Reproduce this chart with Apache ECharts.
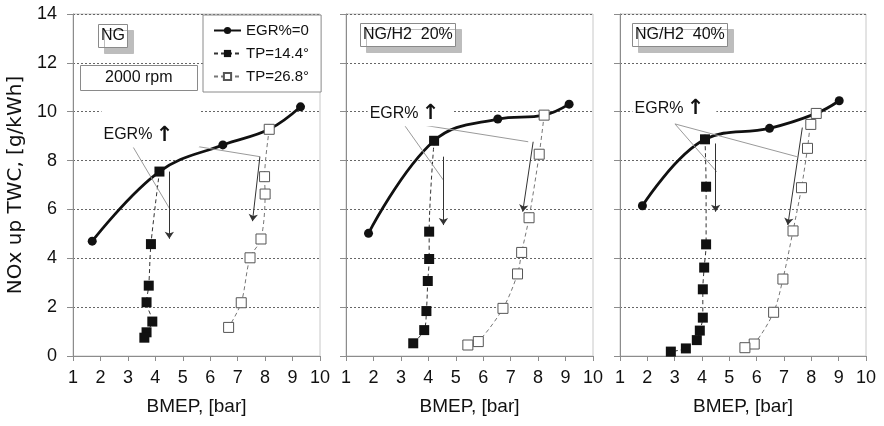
<!DOCTYPE html>
<html>
<head>
<meta charset="utf-8">
<script src="https://cdn.jsdelivr.net/npm/echarts@6/dist/echarts.min.js"></script>
<style>
html,body{margin:0;padding:0;background:#fff;}
#chart{width:884px;height:426px;}
</style>
</head>
<body>
<div id="chart"></div>
<script>
// ---------- data ----------
const seriesNames = ['EGR%=0', 'TP=14.4°', 'TP=26.8°'];
const panelTitles = ['NG', 'NG/H2  20%', 'NG/H2  40%'];
const speedLabel = '2000 rpm';
const yAxisName = 'NOx up TWC, [g/kWh]';
const xAxisName = 'BMEP, [bar]';

// panel 1: NG
const ngEgr0   = [[1.70,4.70],[4.15,7.55],[6.46,8.64],[8.15,9.28],[9.29,10.20]];
const ngTp144  = [[4.15,7.55],[3.84,4.58],[3.76,2.88],[3.68,2.20],[3.89,1.41],[3.68,0.97],[3.60,0.75]];
const ngTp268  = [[8.15,9.28],[7.98,7.34],[8.00,6.63],[7.85,4.79],[7.45,4.02],[7.13,2.18],[6.67,1.17]];
// panel 2: NG/H2 20%
const h20Egr0  = [[1.82,5.02],[4.21,8.81],[6.53,9.70],[8.22,9.86],[9.13,10.31]];
const h20Tp144 = [[4.21,8.81],[4.03,5.09],[4.03,3.97],[3.98,3.07],[3.93,1.84],[3.85,1.06],[3.45,0.52]];
const h20Tp268 = [[8.22,9.86],[8.04,8.26],[7.67,5.66],[7.40,4.24],[7.25,3.36],[6.72,1.95],[5.82,0.59],[5.44,0.45]];
// panel 3: NG/H2 40%
const h40Egr0  = [[1.82,6.15],[4.11,8.87],[6.47,9.32],[8.18,9.93],[9.02,10.45]];
const h40Tp144 = [[4.11,8.87],[4.15,6.93],[4.15,4.57],[4.08,3.62],[4.03,2.73],[4.03,1.57],[3.92,1.04],[3.81,0.65],[3.41,0.31],[2.86,0.18]];
const h40Tp268 = [[8.18,9.93],[7.98,9.48],[7.86,8.50],[7.64,6.89],[7.33,5.12],[6.96,3.15],[6.62,1.79],[5.91,0.49],[5.57,0.34]];

// annotation geometry in data units: label anchor, pointer origin, pointer targets, arrows
const annLabel   = [[2.02,9.33],[1.77,10.0],[1.44,10.23]];
const annOrigin  = [[2.93,9.05],[3.04,9.59],[3.01,9.50]];
const annTargets = [
  [[4.51,6.05],[7.81,8.16]],
  [[4.55,7.20],[7.64,8.77]],
  [[4.54,7.54],[7.47,8.16]]
];
const annArrows = [
  [[[4.51,7.55],[4.51,4.80]],[[7.81,8.16],[7.54,5.52]]],
  [[[4.55,8.16],[4.55,5.36]],[[7.82,8.77],[7.44,5.91]]],
  [[[4.50,8.70],[4.50,5.91]],[[7.67,9.35],[7.14,5.36]]]
];

const egr0 = [ngEgr0, h20Egr0, h40Egr0];
const tp144 = [ngTp144, h20Tp144, h40Tp144];
const tp268 = [ngTp268, h20Tp268, h40Tp268];

// ---------- layout ----------
const FONT = "'Liberation Sans', Arial, sans-serif";
const FONT_WIDE = "'DejaVu Sans', 'Liberation Sans', sans-serif";
const grids = [
  {left: 73, top: 14, width: 247, height: 342},
  {left: 346, top: 14, width: 247, height: 342},
  {left: 620, top: 14, width: 246, height: 342}
];
const titleBoxes = [{left: 98, top: 24}, {left: 360, top: 23}, {left: 632, top: 23}];
const labelPadding = [[16, 26, 2, 2], [6, 14, 2, 2], [6, 12, 2, 2]];

const option = {
  backgroundColor: '#fff',
  animation: false,
  textStyle: {fontFamily: FONT},
  grid: grids.map(g => Object.assign({show: true, borderColor: '#c8c8c8', borderWidth: 1, backgroundColor: '#fff'}, g)),
  title: panelTitles.map((t, i) => ({
    text: t, left: titleBoxes[i].left, top: titleBoxes[i].top,
    padding: [3, 3, 3, 3], backgroundColor: '#fff', borderColor: '#8a8a8a', borderWidth: 1,
    shadowColor: '#bdbdbd', shadowOffsetX: 6, shadowOffsetY: 6, shadowBlur: 0,
    textStyle: {fontSize: 16, fontWeight: 'normal', color: '#111', fontFamily: FONT, lineHeight: 18}
  })).concat([{
    text: speedLabel, left: 80, top: 65,
    padding: [4, 25, 4, 25], backgroundColor: '#fff', borderColor: '#8a8a8a', borderWidth: 1,
    textStyle: {fontSize: 16, fontWeight: 'normal', color: '#111', fontFamily: FONT, lineHeight: 18}
  }]),
  legend: {
    data: seriesNames, left: 203, top: 15, orient: 'vertical',
    borderColor: '#8a8a8a', borderWidth: 1, backgroundColor: '#fff',
    padding: [8, 12, 8, 10], itemGap: 8, itemWidth: 27, itemHeight: 9,
    textStyle: {fontSize: 15, color: '#111', fontFamily: FONT}
  },
  xAxis: grids.map((g, i) => ({
    type: 'value', gridIndex: i, min: 1, max: 10, interval: 1,
    name: xAxisName, nameLocation: 'middle', nameGap: 41,
    nameTextStyle: {fontSize: 19, color: '#111', fontFamily: FONT},
    axisLine: {show: true, lineStyle: {color: '#8c8c8c'}},
    axisTick: {show: true, inside: false, length: 5, lineStyle: {color: '#8c8c8c'}},
    axisLabel: {fontSize: 18, color: '#111', margin: 13, fontFamily: FONT},
    splitLine: {show: false}
  })),
  yAxis: grids.map((g, i) => ({
    type: 'value', gridIndex: i, min: 0, max: 14, interval: 2,
    name: i === 0 ? yAxisName : '', nameLocation: 'middle', nameGap: 47,
    nameTextStyle: {fontSize: 20, color: '#111', fontFamily: FONT_WIDE},
    axisLine: {show: true, lineStyle: {color: '#8c8c8c'}},
    axisTick: {show: true, inside: false, length: 6, lineStyle: {color: '#8c8c8c'}},
    axisLabel: {show: i === 0, fontSize: 18, color: '#111', margin: 16, fontFamily: FONT},
    splitLine: {show: true, lineStyle: {color: '#666', width: 1, type: [2, 2]}}
  })),
  series: []
};

for (let i = 0; i < 3; i++) {
  const pointerLines = annTargets[i].map(t => [
    {coord: annOrigin[i], symbol: 'none', lineStyle: {color: '#9a9a9a', width: 1, type: 'solid'}},
    {coord: t, symbol: 'none'}
  ]);
  const arrowLines = annArrows[i].map(a => [
    {coord: a[0], symbol: 'none', lineStyle: {color: '#333', width: 1, type: 'solid'}},
    {coord: a[1], symbol: 'arrow', symbolSize: 7}
  ]);
  option.series.push({
    type: 'line', name: 'annotation' + i, xAxisIndex: i, yAxisIndex: i, data: [], z: 1,
    silent: true,
    markLine: {silent: true, animation: false, label: {show: false}, symbol: ['none', 'none'],
      data: pointerLines.concat(arrowLines)},
    markPoint: {silent: true, animation: false,
      data: [{coord: annLabel[i], symbol: 'rect', symbolSize: 1, itemStyle: {color: 'rgba(0,0,0,0)'},
        label: {show: true, position: 'right', distance: 0, formatter: '{a|EGR%} {b|↑}',
          backgroundColor: '#fff', padding: labelPadding[i],
          rich: {a: {fontSize: 16, color: '#111', fontFamily: FONT},
                 b: {fontSize: 21, fontWeight: 'bold', color: '#111', fontFamily: FONT_WIDE}}}}]}
  });
  option.series.push({
    type: 'line', name: seriesNames[0], xAxisIndex: i, yAxisIndex: i, data: egr0[i], z: 3,
    smooth: 0.4, symbol: 'circle', symbolSize: 9,
    lineStyle: {color: '#111', width: 2.8}, itemStyle: {color: '#111'}
  });
  option.series.push({
    type: 'line', name: seriesNames[1], xAxisIndex: i, yAxisIndex: i, data: tp144[i], z: 4,
    smooth: 0.3, symbol: 'rect', symbolSize: 10,
    lineStyle: {color: '#333', width: 1, type: [4, 3]}, itemStyle: {color: '#111'}
  });
  option.series.push({
    type: 'line', name: seriesNames[2], xAxisIndex: i, yAxisIndex: i, data: tp268[i], z: 4,
    smooth: 0.3, symbol: 'rect', symbolSize: 10,
    lineStyle: {color: '#777', width: 1, type: [4, 3]},
    itemStyle: {color: '#fff', borderColor: '#555', borderWidth: 1}
  });
}

const chart = echarts.init(document.getElementById('chart'), null, {renderer: 'canvas'});
chart.setOption(option);
</script>
</body>
</html>
